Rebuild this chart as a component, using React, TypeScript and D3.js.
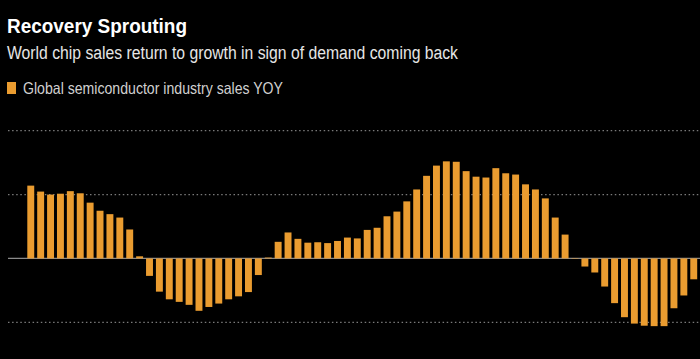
import React from 'react';
import * as d3 from 'd3';

// monthly YoY % change
const salesYoy = [
  17.1, 15.7, 15.0, 15.2, 15.8, 15.3, 13.1, 11.2, 10.4, 9.6, 6.8, 0.5,
  -4.1, -7.8, -9.6, -10.2, -10.9, -12.3, -11.4, -10.6, -9.6, -8.9, -7.9, -3.9,
  0.2, 3.9, 6.1, 4.6, 3.7, 3.8, 3.6, 4.1, 4.9, 4.7, 6.7, 7.2,
  9.9, 11.0, 13.4, 16.2, 19.4, 21.8, 22.8, 22.7, 20.5, 19.2, 19.0, 21.2,
  20.0, 19.7, 17.4, 16.2, 14.1, 9.6, 5.6, -0.1, -1.9, -3.3, -6.6, -10.5,
  -13.8, -15.3, -15.8, -15.9, -15.9, -11.7, -8.7, -4.9
];
const gridTicks = [30, 15, -15];

const width = 700;
const height = 359;
const orange = '#EA9C30';
const font = "'Liberation Sans Narrow', 'Liberation Sans', Arial, sans-serif";

export default function App() {
  const x = d3.scaleBand<number>()
    .domain(d3.range(salesYoy.length))
    .range([27.3, 697.2])
    .paddingInner(0.3)
    .paddingOuter(0);

  const y = d3.scaleLinear()
    .domain([-15, 30])
    .range([322.3, 130.7]);

  return (
    <svg width={width} height={height}
      style={{ position: 'fixed', left: 0, top: 0, background: '#000', display: 'block' }}>
      <rect width={width} height={height} fill="#000" />

      {/* the original face is a condensed one, so squeeze to the measured widths */}
      <text x={7} y={33} fill="#fff" fontFamily={font} fontWeight="bold" fontSize={20}
        textLength={180} lengthAdjust="spacingAndGlyphs">
        Recovery Sprouting
      </text>
      <text x={7} y={59} fill="#e6e6e6" fontFamily={font} fontSize={18}
        textLength={451} lengthAdjust="spacingAndGlyphs">
        World chip sales return to growth in sign of demand coming back
      </text>

      <rect x={7} y={82} width={9} height={12} fill={orange} />
      <text x={23} y={94} fill="#d0d0d0" fontFamily={font} fontSize={16.5}
        textLength={260} lengthAdjust="spacingAndGlyphs">
        Global semiconductor industry sales YOY
      </text>

      <g>
        {gridTicks.map(t => (
          <line key={t} x1={8} x2={width} y1={y(t)} y2={y(t)}
            stroke="#7a7a7a" strokeWidth={1.3} strokeDasharray="1.5,2.6" />
        ))}
      </g>

      <line x1={8} x2={width} y1={y(0)} y2={y(0)} stroke="#8a8a8a" strokeWidth={1.2} />

      <g>
        {salesYoy.map((v, i) => (
          <rect key={i}
            x={x(i)}
            width={x.bandwidth()}
            y={y(Math.max(0, v))}
            height={Math.abs(y(v) - y(0))}
            fill={orange} />
        ))}
      </g>
    </svg>
  );
}
